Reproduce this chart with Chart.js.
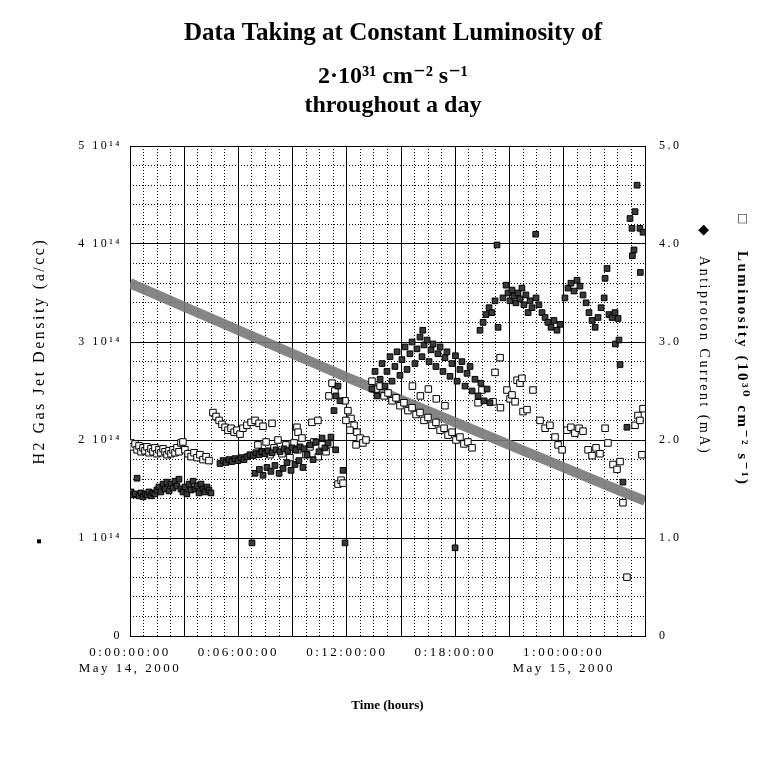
<!DOCTYPE html>
<html>
<head>
<meta charset="utf-8">
<script src="https://cdn.jsdelivr.net/npm/chart.js@4.4.1/dist/chart.umd.min.js"></script>
<style>
  html, body { margin: 0; padding: 0; background: #fff; }
</style>
</head>
<body>
<canvas id="grafico" width="763" height="763"></canvas>
<script>
// ---- data (time in hours from 0:00 May 14, 2000) ----
const titleLines = ['Data Taking at Constant Luminosity of', '2·10³¹ cm⁻² s⁻¹', 'throughout a day'];

const xTickHours = [0, 6, 12, 18, 24];
const xTickLabels = [['0:00:00:00', 'May 14, 2000'], '0:06:00:00', '0:12:00:00', '0:18:00:00', ['1:00:00:00', 'May 15, 2000']];
const leftTickLabels = ['0', '1 10¹⁴', '2 10¹⁴', '3 10¹⁴', '4 10¹⁴', '5 10¹⁴'];
const rightTickLabels = ['0', '1.0', '2.0', '3.0', '4.0', '5.0'];

// H2 gas jet density, units of 10^14 a/cc  [hour, value]
const densityPoints = [
  [0.06,1.47],[0.17,1.44],[0.28,1.45],[0.39,1.61],[0.50,1.43],[0.61,1.46],[0.72,1.42],[0.83,1.45],
  [0.94,1.44],[1.05,1.47],[1.16,1.43],[1.27,1.46],[1.38,1.45],[1.49,1.49],[1.60,1.52],[1.71,1.47],
  [1.83,1.55],[1.94,1.50],[2.05,1.57],[2.16,1.48],[2.27,1.55],[2.38,1.51],[2.49,1.58],[2.60,1.53],
  [2.71,1.60],[2.82,1.50],[2.93,1.47],[3.04,1.52],[3.15,1.45],[3.27,1.55],[3.38,1.49],[3.49,1.58],
  [3.60,1.50],[3.71,1.53],[3.82,1.46],[3.93,1.55],[4.04,1.50],[4.15,1.47],[4.26,1.52],[4.37,1.49],
  [4.48,1.46],
  [4.98,1.76],[5.15,1.79],[5.31,1.77],[5.48,1.80],[5.64,1.78],[5.81,1.81],[5.98,1.79],[6.14,1.82],[6.31,1.80],
  [6.47,1.83],[6.64,1.85],[6.81,1.84],[6.97,1.87],[7.14,1.85],[7.30,1.88],[7.47,1.86],[7.64,1.89],
  [7.86,1.87],[8.08,1.90],[8.30,1.88],[8.52,1.91],[8.74,1.89],[8.97,1.92],[9.19,1.90],[9.41,1.93],[9.63,1.91],
  [6.92,1.66],[7.16,1.70],[7.36,1.64],[7.58,1.72],[7.80,1.68],[8.02,1.74],[8.25,1.66],[8.47,1.71],
  [8.69,1.77],[8.91,1.69],[9.13,1.75],[9.35,1.79],[9.57,1.72],
  [9.80,1.85],[9.96,1.95],[10.13,1.80],[10.29,1.98],[10.46,1.88],[10.63,2.02],[10.79,1.92],[10.96,1.97],[11.12,2.03],
  [11.29,2.30],[11.40,2.45],[11.51,2.55],[11.62,2.40],[11.38,1.90],[11.79,1.69],
  [6.75,0.95],[11.90,0.95],[17.99,0.90],
  [13.39,2.52],[13.56,2.70],[13.67,2.45],[13.84,2.62],[13.95,2.78],[14.11,2.55],[14.22,2.70],[14.39,2.85],
  [14.50,2.60],[14.66,2.75],[14.78,2.90],[14.94,2.66],[15.05,2.82],[15.22,2.95],[15.33,2.72],[15.49,2.88],
  [15.61,3.00],[15.77,2.78],[15.88,2.93],[16.05,3.05],[16.16,2.85],[16.27,2.97],[16.44,3.02],[16.55,2.80],
  [16.66,2.92],[16.77,2.98],[16.93,2.75],[17.04,2.88],[17.16,2.95],[17.32,2.70],[17.43,2.84],[17.54,2.90],
  [17.71,2.65],[17.82,2.78],[18.01,2.86],[18.10,2.60],[18.26,2.72],[18.37,2.80],[18.54,2.55],[18.65,2.68],
  [18.82,2.75],[18.93,2.50],[19.09,2.62],[19.26,2.45],[19.42,2.58],[19.59,2.40],[19.76,2.52],[19.92,2.38],
  [16.20,3.12],
  [19.37,3.12],[19.54,3.20],[19.70,3.28],[19.87,3.35],[20.03,3.30],[20.20,3.42],[20.37,3.15],
  [20.64,3.45],[20.81,3.58],[20.92,3.50],[21.03,3.42],[21.14,3.53],[21.25,3.47],[21.36,3.40],[21.47,3.50],
  [21.58,3.44],[21.69,3.55],[21.80,3.38],[21.91,3.48],[22.03,3.30],[22.14,3.42],[22.25,3.35],
  [22.47,3.45],[22.63,3.38],[22.80,3.30],[22.97,3.25],[23.13,3.20],[23.30,3.15],[23.46,3.22],[23.63,3.12],[23.80,3.18],
  [24.07,3.45],[24.24,3.55],[24.40,3.60],[24.57,3.52],[24.74,3.63],[24.90,3.57],[25.07,3.48],[25.24,3.40],
  [25.40,3.30],[25.57,3.22],[25.74,3.15],[25.90,3.25],[26.07,3.35],[26.24,3.45],[26.29,3.65],[26.40,3.75],
  [26.51,3.28],[26.68,3.25],[26.84,3.30],[27.01,3.24],
  [20.31,3.99],[22.45,4.10],
  [26.86,2.98],[27.06,3.02],[27.12,2.77],[27.28,1.57],[27.50,2.13],[27.67,4.26],[27.78,4.16],[27.80,3.88],
  [27.89,3.94],[27.95,4.33],[28.06,4.60],[28.22,4.16],[28.24,3.71],[28.39,4.12]
];

// Luminosity, units of 10^30 cm^-2 s^-1  [hour, value]
const lumPoints = [
  [0.06,1.97],[0.17,1.93],[0.28,1.96],[0.39,1.90],[0.50,1.94],[0.61,1.88],[0.72,1.92],[0.83,1.89],
  [0.94,1.93],[1.05,1.87],[1.16,1.91],[1.27,1.88],[1.38,1.92],[1.49,1.86],[1.60,1.90],[1.71,1.87],
  [1.83,1.91],[1.94,1.88],[2.05,1.85],[2.16,1.89],[2.27,1.86],[2.38,1.90],[2.49,1.87],[2.60,1.92],
  [2.71,1.88],[2.82,1.97],[2.93,1.98],[3.04,1.90],[3.21,1.86],[3.38,1.83],[3.54,1.87],[3.71,1.82],
  [3.87,1.85],[4.04,1.80],[4.21,1.83],[4.37,1.79],
  [4.59,2.28],[4.76,2.24],[4.93,2.20],[5.09,2.16],[5.26,2.13],[5.42,2.10],[5.59,2.12],[5.76,2.08],[5.92,2.10],[6.09,2.06],
  [6.25,2.12],[6.47,2.15],[6.70,2.18],[6.92,2.20],[7.14,2.17],[7.36,2.14],[7.86,2.17],[9.24,2.13],[9.30,2.08],
  [10.07,2.18],[10.40,2.20],
  [7.08,1.95],[7.30,1.88],[7.53,1.98],[7.75,1.85],[7.97,1.92],[8.19,2.00],[8.41,1.86],[8.63,1.95],
  [8.85,1.82],[9.08,1.97],[9.28,1.90],[9.52,2.02],[9.74,1.85],[9.96,1.93],[10.18,1.98],[10.42,1.83],
  [10.63,1.95],[10.85,1.88],[11.07,1.96],
  [11.01,2.45],[11.18,2.58],[11.34,2.50],[11.51,1.55],[11.68,1.59],[11.79,1.56],[11.90,2.40],[12.06,2.30],
  [12.23,2.22],[12.40,2.15],[12.56,2.08],[12.73,2.02],[12.89,1.97],[13.06,2.00],[11.95,2.20],[12.17,2.10],[12.51,1.95],
  [13.39,2.60],[13.61,2.52],[13.84,2.55],[14.06,2.45],[14.28,2.48],[14.50,2.40],[14.72,2.43],[14.94,2.35],
  [15.16,2.38],[15.38,2.30],[15.61,2.33],[15.83,2.26],[16.05,2.28],[16.27,2.20],[16.49,2.23],[16.71,2.15],
  [16.93,2.18],[17.16,2.10],[17.38,2.12],[17.60,2.05],[17.82,2.08],[18.04,2.00],[18.26,2.03],[18.48,1.96],
  [18.70,1.98],[18.93,1.92],
  [15.63,2.55],[16.07,2.45],[16.51,2.52],[16.95,2.42],[17.43,2.35],
  [19.26,2.38],[19.48,2.51],[20.09,2.39],[20.20,2.69],[20.48,2.84],[20.50,2.33],[20.86,2.51],[21.03,2.42],
  [21.14,2.46],[21.31,2.39],[21.42,2.61],[21.58,2.58],[21.69,2.63],[21.75,2.29],[21.97,2.31],[22.30,2.51],
  [22.69,2.20],[22.97,2.12],[23.24,2.15],[23.52,2.03],[23.69,1.95],[23.91,1.90],[24.18,2.10],[24.40,2.13],
  [24.62,2.07],[24.85,2.12],[25.07,2.09],[25.35,1.90],[25.57,1.84],[25.79,1.92],[26.01,1.86],[26.29,2.12],
  [26.45,1.97],[26.73,1.75],[26.95,1.70],[27.12,1.78],[27.28,1.36],[27.50,0.60],[27.95,2.15],[28.11,2.25],
  [28.22,2.20],[28.33,1.85],[28.39,2.32]
];

// Antiproton current, mA  [hour, value]
const currentPoints = [
  [0,3.60],[3,3.36],[6,3.12],[9,2.88],[12,2.64],[15,2.41],[18,2.18],[21,1.95],[24,1.72],[27,1.49],[28.5,1.38]
];

// ---- chart ----
const serif = "'Liberation Serif', 'DejaVu Serif', serif";
Chart.defaults.font.family = serif;
Chart.defaults.color = '#000';

const toXY = pts => pts.map(p => ({ x: p[0], y: p[1] }));

// the old plot spaces its axis text out; tick labels and side titles
// are drawn after the datasets (z: 2), so widen letters only for those
const spacedText = {
  id: 'spacedText',
  beforeDraw(chart) { chart.ctx.letterSpacing = '0px'; },
  afterDatasetsDraw(chart) { chart.ctx.letterSpacing = '2.5px'; },
  afterDraw(chart) { chart.ctx.letterSpacing = '0px'; }
};

// side titles carry their symbol; spaces push them off-centre like the original
const leftTitle = '▪' + ' '.repeat(11) + 'H2 Gas Jet Density (a/cc)';
const currentTitle = '◆' + ' '.repeat(3) + 'Antiproton Current (mA)' + ' '.repeat(17);
const lumTitle = '□' + ' '.repeat(4) + 'Luminosity (10³⁰ cm⁻² s⁻¹)' + ' '.repeat(13);

const titleOnly = (position, weight, text, font, pad, width) => ({
  position,
  weight,
  min: 0,
  max: 5,
  ticks: { display: false },
  grid: { display: false, z: 2 },
  border: { display: false },
  title: { display: true, text, font, padding: { top: pad, bottom: 0 } },
  afterFit: s => { s.width = width; }
});

const ctx = document.getElementById('grafico').getContext('2d');

new Chart(ctx, {
  type: 'scatter',
  data: {
    datasets: [
      {
        label: 'Antiproton Current (mA)',
        type: 'line',
        data: toXY(currentPoints),
        yAxisID: 'y1',
        borderColor: 'rgba(120,120,120,0.9)',
        borderWidth: 10,
        pointRadius: 0,
        fill: false,
        order: 3
      },
      {
        label: 'Luminosity',
        data: toXY(lumPoints),
        yAxisID: 'y1',
        pointStyle: 'rect',
        pointRadius: 4.6,
        backgroundColor: '#fff',
        borderColor: '#000',
        borderWidth: 1,
        order: 2
      },
      {
        label: 'H2 Gas Jet Density',
        data: toXY(densityPoints),
        yAxisID: 'y',
        pointStyle: 'rect',
        pointRadius: 4,
        backgroundColor: '#3a3a3a',
        borderColor: '#000',
        borderWidth: 1,
        order: 1
      }
    ]
  },
  options: {
    responsive: false,
    animation: false,
    layout: { padding: { left: 23, right: 0, top: 0, bottom: 45 } },
    plugins: {
      legend: { display: false },
      tooltip: { enabled: false },
      title: {
        display: true,
        text: titleLines[0],
        color: '#000',
        font: { size: 25, weight: 'bold' },
        padding: { top: 19, bottom: 7.4 }
      },
      subtitle: {
        display: true,
        text: [titleLines[1], titleLines[2]],
        color: '#000',
        font: { size: 24, weight: 'bold' },
        padding: { top: 6, bottom: 26 }
      }
    },
    scales: {
      x: {
        type: 'linear',
        position: 'bottom',
        min: 0,
        max: 28.5,
        ticks: {
          stepSize: 3,
          autoSkip: false,
          maxRotation: 0,
          padding: 9,
          z: 2,
          font: { size: 13 },
          callback: v => {
            const i = xTickHours.indexOf(v);
            return i >= 0 ? xTickLabels[i] : '';
          }
        },
        grid: { color: '#000', drawTicks: false },
        border: { color: '#000' },
        title: { display: true, text: 'Time (hours)', font: { size: 13, weight: 'bold' }, padding: { top: 0, bottom: 5 } },
        afterFit: s => { s.height = 82; }
      },
      xMinor: {
        type: 'linear',
        position: 'bottom',
        min: 0,
        max: 28.5,
        ticks: { stepSize: 0.75, display: false },
        grid: { color: '#000', drawTicks: false },
        border: { display: false, dash: [1, 2] },
        afterFit: s => { s.height = 0; }
      },
      y: {
        position: 'left',
        weight: 0,
        min: 0,
        max: 5,
        ticks: { stepSize: 1, padding: 8, z: 2, font: { size: 12 }, callback: v => leftTickLabels[v] },
        grid: { color: '#000', drawTicks: false },
        border: { color: '#000' },
        afterFit: s => { s.width = 72; }
      },
      yMinor: {
        position: 'left',
        weight: 0,
        min: 0,
        max: 5,
        ticks: { stepSize: 0.2, display: false },
        grid: { color: '#000', drawTicks: false },
        border: { display: false, dash: [1, 2] },
        afterFit: s => { s.width = 0; }
      },
      yTitle: titleOnly('left', 1, leftTitle, { size: 16 }, 7.4, 35),
      y1: {
        position: 'right',
        weight: 0,
        min: 0,
        max: 5,
        ticks: { stepSize: 1, padding: 14, z: 2, font: { size: 12 }, callback: v => rightTickLabels[v] },
        grid: { drawOnChartArea: false, drawTicks: false },
        border: { color: '#000' },
        afterFit: s => { s.width = 45; }
      },
      yCurrent: titleOnly('right', 1, currentTitle, { size: 14 }, 10.6, 33),
      yLum: titleOnly('right', 2, lumTitle, { size: 15, weight: 'bold' }, 12, 40)
    }
  },
  plugins: [spacedText]
});
</script>
</body>
</html>
